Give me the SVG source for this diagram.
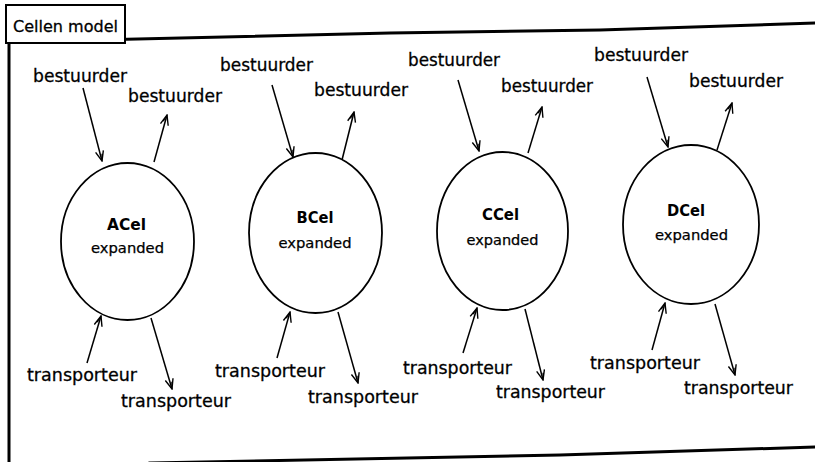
<svg xmlns="http://www.w3.org/2000/svg" width="815" height="462" viewBox="0 0 815 462">
  <style>
    .frame { fill: none; stroke: #000; stroke-width: 3; stroke-linecap: square; }
    .cell { fill: #fff; stroke: #000; stroke-width: 1.8; }
    .flow { fill: none; stroke: #000; stroke-width: 1.5; }
    .lbl { font-family: "DejaVu Sans", "Liberation Sans", sans-serif; font-size: 18px; fill: #000; stroke: #000; stroke-width: 0.3; }
    .title { font-family: "DejaVu Sans", "Liberation Sans", sans-serif; font-size: 16px; fill: #000; stroke: #000; stroke-width: 0.3; }
    .name { font-family: "DejaVu Sans", "Liberation Sans", sans-serif; font-size: 16px; font-weight: bold; fill: #000; text-anchor: middle; }
    .state { font-family: "DejaVu Sans", "Liberation Sans", sans-serif; font-size: 14px; fill: #000; stroke: #000; stroke-width: 0.25; text-anchor: middle; }
  </style>
  <defs>
    <marker id="head" viewBox="0 0 12 10" refX="11" refY="5" markerWidth="12" markerHeight="10" markerUnits="userSpaceOnUse" orient="auto">
      <path d="M1,1 L11,5 L1,9 M4,3 L11,5" fill="none" stroke="#000" stroke-width="1.4"/>
    </marker>
  </defs>
  <rect width="815" height="462" fill="#fff"/>

  <!-- outer frame -->
  <g id="frame">
    <polyline class="frame" points="9,42 390,33 600,30 815,23"/>
    <line class="frame" x1="9" y1="42" x2="9" y2="462"/>
    <polyline class="frame" points="150,463 560,455 815,447"/>
    <rect x="6" y="5" width="119" height="38" fill="#fff" stroke="#000" stroke-width="2"/>
    <text class="title" x="13" y="32" textLength="105" lengthAdjust="spacingAndGlyphs">Cellen model</text>
  </g>

  <!-- connectors -->
  <g id="connectors" class="flow" marker-end="url(#head)">
    <line x1="83" y1="88" x2="102" y2="161"/>
    <line x1="154" y1="162" x2="167" y2="115"/>
    <line x1="87" y1="363" x2="101" y2="316"/>
    <line x1="151" y1="318" x2="172" y2="389"/>

    <line x1="272" y1="85" x2="293" y2="157"/>
    <line x1="342" y1="160" x2="354" y2="112"/>
    <line x1="277" y1="358" x2="290" y2="312"/>
    <line x1="338" y1="312" x2="358" y2="383"/>

    <line x1="458" y1="80" x2="479" y2="151"/>
    <line x1="528" y1="153" x2="542" y2="107"/>
    <line x1="463" y1="353" x2="477" y2="308"/>
    <line x1="525" y1="309" x2="543" y2="380"/>

    <line x1="647" y1="77" x2="668" y2="147"/>
    <line x1="717" y1="150" x2="732" y2="103"/>
    <line x1="652" y1="350" x2="665" y2="303"/>
    <line x1="715" y1="304" x2="735" y2="375"/>
  </g>

  <!-- cells -->
  <g id="ACel">
    <ellipse class="cell" cx="127.5" cy="241.5" rx="66.5" ry="78.5"/>
    <text class="name" x="126.5" y="230" textLength="39" lengthAdjust="spacingAndGlyphs">ACel</text>
    <text class="state" x="127.5" y="253" textLength="73" lengthAdjust="spacingAndGlyphs">expanded</text>
  </g>
  <g id="BCel">
    <ellipse class="cell" cx="315.5" cy="233" rx="66.5" ry="80"/>
    <text class="name" x="315" y="223" textLength="37" lengthAdjust="spacingAndGlyphs">BCel</text>
    <text class="state" x="315" y="248" textLength="73" lengthAdjust="spacingAndGlyphs">expanded</text>
  </g>
  <g id="CCel">
    <ellipse class="cell" cx="502.5" cy="231" rx="65.5" ry="79"/>
    <text class="name" x="500.5" y="220" textLength="37" lengthAdjust="spacingAndGlyphs">CCel</text>
    <text class="state" x="502.5" y="245" textLength="72" lengthAdjust="spacingAndGlyphs">expanded</text>
  </g>
  <g id="DCel">
    <ellipse class="cell" cx="691" cy="224.5" rx="68" ry="79.5"/>
    <text class="name" x="686" y="216" textLength="38" lengthAdjust="spacingAndGlyphs">DCel</text>
    <text class="state" x="691.5" y="240" textLength="73" lengthAdjust="spacingAndGlyphs">expanded</text>
  </g>

  <!-- port labels -->
  <g id="labels">
    <text class="lbl" x="33" y="82" textLength="94" lengthAdjust="spacingAndGlyphs">bestuurder</text>
    <text class="lbl" x="128" y="102" textLength="94" lengthAdjust="spacingAndGlyphs">bestuurder</text>
    <text class="lbl" x="27" y="381" textLength="110" lengthAdjust="spacingAndGlyphs">transporteur</text>
    <text class="lbl" x="121" y="407" textLength="110" lengthAdjust="spacingAndGlyphs">transporteur</text>

    <text class="lbl" x="220" y="71" textLength="93" lengthAdjust="spacingAndGlyphs">bestuurder</text>
    <text class="lbl" x="314" y="96" textLength="94" lengthAdjust="spacingAndGlyphs">bestuurder</text>
    <text class="lbl" x="215" y="377" textLength="110" lengthAdjust="spacingAndGlyphs">transporteur</text>
    <text class="lbl" x="308" y="403" textLength="110" lengthAdjust="spacingAndGlyphs">transporteur</text>

    <text class="lbl" x="408" y="66" textLength="92" lengthAdjust="spacingAndGlyphs">bestuurder</text>
    <text class="lbl" x="501" y="92" textLength="92" lengthAdjust="spacingAndGlyphs">bestuurder</text>
    <text class="lbl" x="403" y="374" textLength="109" lengthAdjust="spacingAndGlyphs">transporteur</text>
    <text class="lbl" x="496" y="398" textLength="109" lengthAdjust="spacingAndGlyphs">transporteur</text>

    <text class="lbl" x="594" y="61" textLength="94" lengthAdjust="spacingAndGlyphs">bestuurder</text>
    <text class="lbl" x="689" y="87" textLength="94" lengthAdjust="spacingAndGlyphs">bestuurder</text>
    <text class="lbl" x="590" y="369" textLength="110" lengthAdjust="spacingAndGlyphs">transporteur</text>
    <text class="lbl" x="684" y="394" textLength="109" lengthAdjust="spacingAndGlyphs">transporteur</text>
  </g>
</svg>
